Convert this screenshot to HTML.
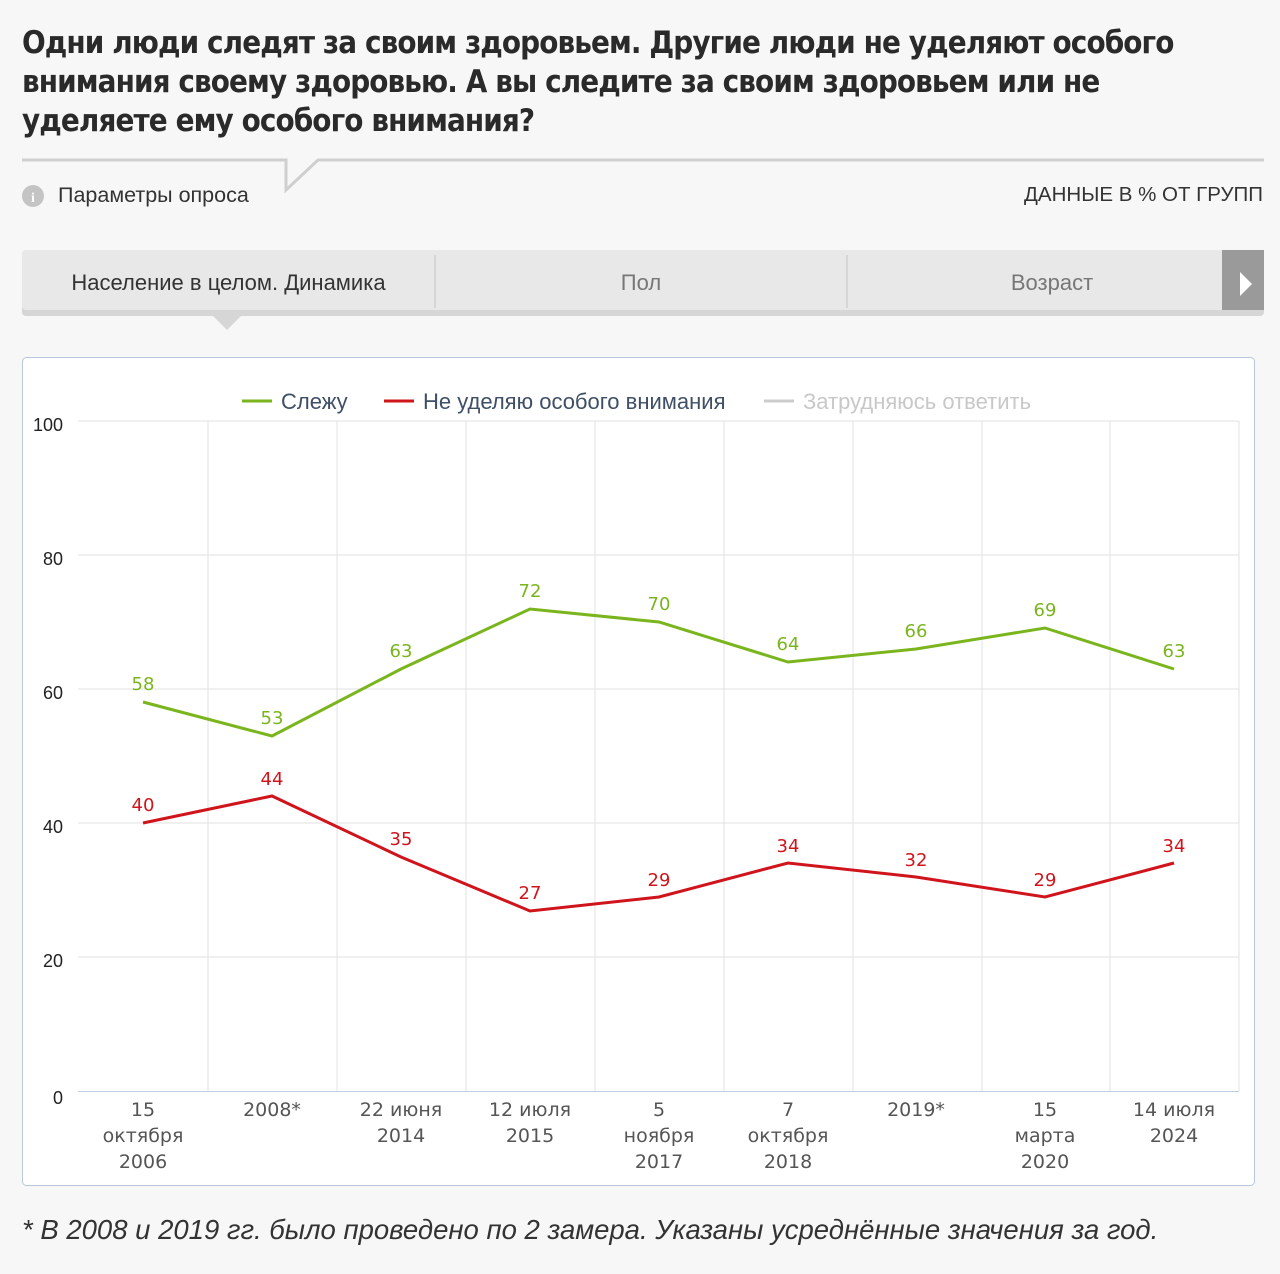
<!DOCTYPE html>
<html><head><meta charset="utf-8"><style>
body{margin:0;width:1280px;height:1274px;background:#f7f7f7;font-family:"Liberation Sans",sans-serif;position:relative;overflow:hidden}
.t{position:absolute;left:22px;top:24px;font-family:"DejaVu Sans Condensed","DejaVu Sans","Liberation Sans",sans-serif;font-stretch:condensed;font-size:31px;line-height:39px;color:#2a2a2a;font-weight:bold;letter-spacing:-0.9px;width:1260px;white-space:nowrap}
.a{position:absolute}
</style></head><body>
<div class="t">Одни люди следят за своим здоровьем. Другие люди не уделяют особого<br>внимания своему здоровью. А вы следите за своим здоровьем или не<br>уделяете ему особого внимания?</div>
<svg class="a" style="left:0;top:0" width="1280" height="1274">
<polyline points="22,160 286,160 286,190 318,160 1264,160" fill="none" stroke="#cfcfcf" stroke-width="3"/>
<circle cx="33" cy="196" r="11" fill="#c4c4c4"/><text x="33" y="202" font-size="14" font-weight="bold" fill="#fff" text-anchor="middle" font-family="Liberation Serif">i</text>
<rect x="22" y="252" width="1242" height="64" rx="4" fill="#d6d6d6"/>
<rect x="22" y="250" width="1242" height="60" rx="4" fill="#e8e8e8"/>
<rect x="1222" y="250" width="42" height="60" fill="#9a9a9a"/>
<polygon points="1240,272 1252,284 1240,296" fill="#fff"/>
<line x1="435" y1="255" x2="435" y2="308" stroke="#c4c4c4"/>
<line x1="847" y1="255" x2="847" y2="308" stroke="#c4c4c4"/>
<polygon points="213,316 241,316 227,330" fill="#d6d6d6"/>
<rect x="22.5" y="357.5" width="1232" height="828" rx="4" fill="#fff" stroke="#b9c6dc"/>
<g stroke="#e2e2e2" stroke-width="1">
<line x1="78" y1="421" x2="1239" y2="421"/><line x1="78" y1="555" x2="1239" y2="555"/><line x1="78" y1="689" x2="1239" y2="689"/><line x1="78" y1="823" x2="1239" y2="823"/><line x1="78" y1="957" x2="1239" y2="957"/>
<line x1="208" y1="421" x2="208" y2="1091"/><line x1="337" y1="421" x2="337" y2="1091"/><line x1="466" y1="421" x2="466" y2="1091"/><line x1="595" y1="421" x2="595" y2="1091"/><line x1="724" y1="421" x2="724" y2="1091"/><line x1="853" y1="421" x2="853" y2="1091"/><line x1="982" y1="421" x2="982" y2="1091"/><line x1="1110" y1="421" x2="1110" y2="1091"/><line x1="1239" y1="421" x2="1239" y2="1091"/>
</g>
<line x1="78" y1="1091.5" x2="1239" y2="1091.5" stroke="#c0d0e0"/>
<g font-size="18" fill="#222" text-anchor="end">
<text x="63" y="431">100</text><text x="63" y="565">80</text><text x="63" y="699">60</text><text x="63" y="833">40</text><text x="63" y="967">20</text><text x="63" y="1104">0</text></g>
<g font-size="19" fill="#555" text-anchor="middle" font-family="DejaVu Sans">
<text x="143" y="1116">15</text><text x="143" y="1142">октября</text><text x="143" y="1168">2006</text>
<text x="272" y="1116">2008*</text>
<text x="401" y="1116">22 июня</text><text x="401" y="1142">2014</text>
<text x="530" y="1116">12 июля</text><text x="530" y="1142">2015</text>
<text x="659" y="1116">5</text><text x="659" y="1142">ноября</text><text x="659" y="1168">2017</text>
<text x="788" y="1116">7</text><text x="788" y="1142">октября</text><text x="788" y="1168">2018</text>
<text x="916" y="1116">2019*</text>
<text x="1045" y="1116">15</text><text x="1045" y="1142">марта</text><text x="1045" y="1168">2020</text>
<text x="1174" y="1116">14 июля</text><text x="1174" y="1142">2024</text></g>
<polyline fill="none" stroke="#7ab51d" stroke-width="3" points="143,702 272,736 401,669 530,609 659,622 788,662 916,649 1045,628 1174,669"/>
<polyline fill="none" stroke="#d0141c" stroke-width="3" points="143,823 272,796 401,857 530,911 659,897 788,863 916,877 1045,897 1174,863"/>
<g font-size="18" fill="#7ab51d" text-anchor="middle" font-family="DejaVu Sans">
<text x="143" y="690">58</text><text x="272" y="724">53</text><text x="401" y="657">63</text><text x="530" y="597">72</text><text x="659" y="610">70</text><text x="788" y="650">64</text><text x="916" y="637">66</text><text x="1045" y="616">69</text><text x="1174" y="657">63</text></g>
<g font-size="18" fill="#d0141c" text-anchor="middle" font-family="DejaVu Sans">
<text x="143" y="811">40</text><text x="272" y="785">44</text><text x="401" y="845">35</text><text x="530" y="899">27</text><text x="659" y="886">29</text><text x="788" y="852">34</text><text x="916" y="866">32</text><text x="1045" y="886">29</text><text x="1174" y="852">34</text></g>
<g font-size="22">
<line x1="242" y1="401" x2="272" y2="401" stroke="#7ab51d" stroke-width="3"/><text x="281" y="409" fill="#3f4f66">Слежу</text>
<line x1="384" y1="401" x2="414" y2="401" stroke="#d0141c" stroke-width="3"/><text x="423" y="409" fill="#3f4f66">Не уделяю особого внимания</text>
<line x1="764" y1="401" x2="794" y2="401" stroke="#ccc" stroke-width="3"/><text x="803" y="409" fill="#c8c8c8">Затрудняюсь ответить</text>
</g>
</svg>
<div class="a" style="left:58px;top:183px;font-size:21.5px;color:#333">Параметры опроса</div>
<div class="a" style="right:17px;top:183px;font-size:20.5px;color:#333">ДАННЫЕ В % ОТ ГРУПП</div>
<div class="a" style="left:22px;width:413px;top:270px;font-size:22px;color:#333;text-align:center">Население в целом. Динамика</div>
<div class="a" style="left:435px;width:412px;top:270px;font-size:22px;color:#777;text-align:center">Пол</div>
<div class="a" style="left:847px;width:410px;top:270px;font-size:22px;color:#777;text-align:center">Возраст</div>
<div class="a" style="left:22px;top:1214px;font-size:27.5px;font-style:italic;color:#333;white-space:nowrap">* В 2008 и 2019 гг. было проведено по 2 замера. Указаны усреднённые значения за год.</div>
</body></html>
